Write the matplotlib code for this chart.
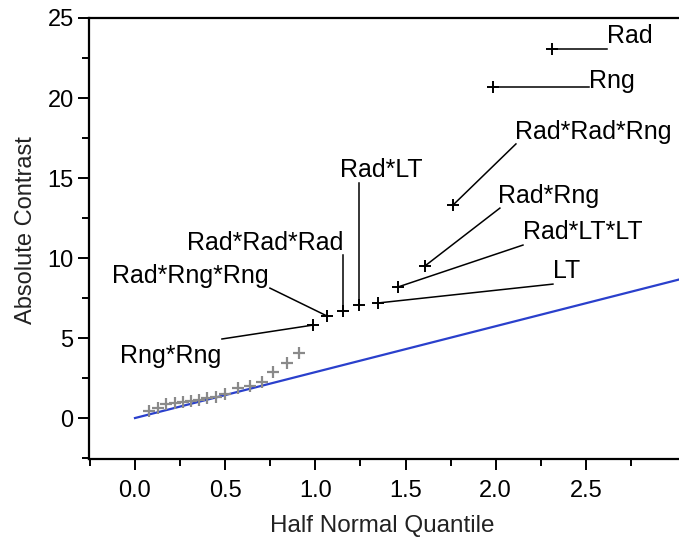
#!/usr/bin/env python
"""Half normal plot of effect contrasts."""
import matplotlib
matplotlib.use("Agg")
import matplotlib.pyplot as plt

# labelled (significant) effects
effects = ["Rad", "Rng", "Rad*Rad*Rng", "Rad*Rng", "Rad*LT*LT",
           "LT", "Rad*LT", "Rad*Rad*Rad", "Rad*Rng*Rng", "Rng*Rng"]
effect_quantile = [2.311, 1.985, 1.763, 1.607, 1.458,
                   1.347, 1.242, 1.153, 1.064, 0.987]
effect_contrast = [23.06, 20.67, 13.31, 9.50, 8.19,
                   7.19, 7.06, 6.69, 6.38, 5.81]

# remaining (small) effects
other_quantile = [0.078, 0.127, 0.172, 0.222, 0.266, 0.310, 0.355, 0.399,
                  0.449, 0.499, 0.571, 0.637, 0.704, 0.765, 0.843, 0.909]
other_contrast = [0.44, 0.63, 0.88, 0.94, 1.00, 1.06, 1.13, 1.25,
                  1.31, 1.50, 1.88, 2.00, 2.25, 2.88, 3.44, 4.06]

# slope of the reference line (pseudo standard error)
pse_slope = 2.87

# label text anchor (x, baseline y, ha) and where the leader line ends
label_pos = {
    "Rad": (2.616, 23.44, "left", 2.616, 23.06),
    "Rng": (2.517, 20.60, "left", 2.517, 20.67),
    "Rad*Rad*Rng": (2.106, 17.42, "left", 2.112, 17.13),
    "Rad*Rng": (2.012, 13.46, "left", 2.023, 13.12),
    "Rad*LT*LT": (2.151, 11.17, "left", 2.151, 10.81),
    "LT": (2.317, 8.77, "left", 2.317, 8.37),
    "Rad*LT": (1.366, 15.06, "center", 1.242, 14.69),
    "Rad*Rad*Rad": (0.720, 10.50, "center", 1.153, 10.19),
    "Rad*Rng*Rng": (0.308, 8.46, "center", 0.748, 8.12),
    "Rng*Rng": (0.200, 3.44, "center", 0.482, 4.94),
}

plt.rcParams["font.family"] = ["Liberation Sans", "DejaVu Sans"]
fs = 18

fig = plt.figure(figsize=(6.79, 5.38), dpi=100)
ax = fig.add_axes([89 / 679, 1 - 459 / 538, 590 / 679, 441 / 538])

xlim = (-0.255, 3.016)
ax.plot([0, xlim[1]], [0, pse_slope * xlim[1]], color="#2a40cc", lw=1.6,
        zorder=2)

ax.plot(other_quantile, other_contrast, ls="none", marker="+", ms=8,
        mew=1.6, color="#8a8a8a", zorder=3)
ax.plot(effect_quantile, effect_contrast, ls="none", marker="+", ms=8,
        mew=1.4, color="black", zorder=4)

for name, qx, cy in zip(effects, effect_quantile, effect_contrast):
    tx, ty, ha, lx, ly = label_pos[name]
    ax.plot([qx, lx], [cy, ly], color="black", lw=1.1, zorder=3)
    ax.text(tx, ty, name, ha=ha, va="baseline", fontsize=fs, color="black")

ax.set_xlim(*xlim)
ax.set_ylim(-2.56, 25)
ax.set_xticks([0, 0.5, 1.0, 1.5, 2.0, 2.5])
ax.set_xticklabels(["0.0", "0.5", "1.0", "1.5", "2.0", "2.5"])
ax.set_xticks([-0.25, 0.25, 0.75, 1.25, 1.75, 2.25, 2.75], minor=True)
ax.set_yticks([0, 5, 10, 15, 20, 25])
ax.set_yticks([-2.5, 2.5, 7.5, 12.5, 17.5, 22.5], minor=True)

ax.spines["right"].set_visible(False)
for side in ("left", "bottom", "top"):
    ax.spines[side].set_linewidth(1.6)
ax.tick_params(which="major", length=8, width=1.4, labelsize=17,
               colors="black")
ax.tick_params(which="minor", length=5, width=1.4)
ax.tick_params(axis="x", which="major", pad=7)
ax.tick_params(axis="y", which="major", pad=3)

ax.set_xlabel("Half Normal Quantile", fontsize=17.5, color="#222222",
              va="baseline")
ax.set_ylabel("Absolute Contrast", fontsize=17, color="#222222")
ax.xaxis.set_label_coords(0.497, -0.166)
ax.yaxis.set_label_coords(-0.088, 0.518)

fig.savefig("out.png", dpi=100)
